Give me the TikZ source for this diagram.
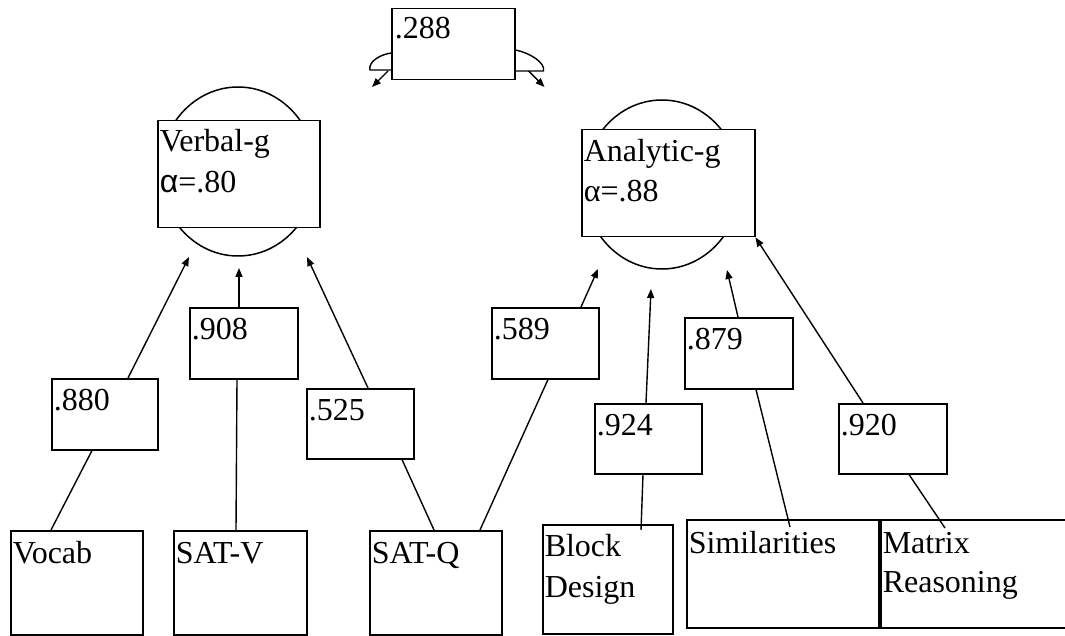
\documentclass[tikz,border=0pt]{standalone}
\usepackage{fontspec}
\setmainfont{Liberation Serif}
\newfontfamily\sansalpha{Liberation Sans}
\usetikzlibrary{arrows.meta,calc,shapes.geometric}
\begin{document}
\begin{tikzpicture}[x=1pt,y=-1pt,line width=1.5pt,
  box/.style={draw,rectangle,inner sep=0pt,anchor=north west},
  lbl/.style={anchor=base west,inner sep=0pt,font=\fontsize{32}{37}\selectfont},
  lat/.style={draw,ellipse,inner sep=0pt,minimum width=156pt,minimum height=169pt},
  conn/.style={line width=1.4pt},
  arr/.style={line width=1.4pt,-{Triangle[length=9pt,width=7pt]}}]
\useasboundingbox (0,0) rectangle (1065,636);
\clip (0,0) rectangle (1065,636);
% latent ellipses
\node[lat] (vcirc) at (238,171.5) {};
\node[lat] (acirc) at (662,184.5) {};
% latent boxes
\node[box,fill=white,minimum width=162pt,minimum height=107pt] (vbox) at (157,120) {};
\node[box,fill=white,minimum width=173pt,minimum height=107pt] (abox) at (581,129) {};
\node[lbl] (vt1) at ([shift={(2,32)}]vbox.north west) {Verbal-g};
\node[lbl] (vt2) at ([shift={(2,73)}]vbox.north west) {{\sansalpha α}=.80};
\node[lbl] (at1) at ([shift={(2,33)}]abox.north west) {Analytic-g};
\node[lbl] (at2) at ([shift={(2,73)}]abox.north west) {α=.88};
% correlation box
\node[box,minimum width=123pt,minimum height=71pt] (corr) at (391,8) {};
\node[lbl] (ct) at ([shift={(3,31)}]corr.north west) {.288};
\coordinate (cl1) at ([shift={(0,45)}]corr.north west);
\coordinate (cl2) at ([shift={(-21,62)}]corr.north west);
\coordinate (cl3) at ([shift={(0,62)}]corr.north west);
\coordinate (cr1) at ([shift={(0,42)}]corr.north east);
\coordinate (cr2) at ([shift={(28,63)}]corr.north east);
\coordinate (cr3) at ([shift={(0,63)}]corr.north east);
\draw[conn] (cl1) .. controls ($(cl1)+(-13,2)$) and ($(cl2)+(-2,-7)$) .. (cl2) -- (cl3);
\draw[conn] (cr1) .. controls ($(cr1)+(15,3)$) and ($(cr2)+(2,-8)$) .. (cr2) -- (cr3);
\draw[arr] ([shift={(-3,63)}]corr.north west) -- ([shift={(-19,79)}]corr.north west);
\draw[arr] ([shift={(13,63)}]corr.north east) -- ([shift={(29,79)}]corr.north east);
% loading boxes
\node[box,minimum width=106pt,minimum height=71pt] (l880) at (51,378) {};
\node[box,minimum width=108pt,minimum height=71pt] (l908) at (189,307) {};
\node[box,minimum width=107pt,minimum height=70pt] (l525) at (306,388) {};
\node[box,minimum width=107pt,minimum height=71pt] (l589) at (491,307) {};
\node[box,minimum width=107pt,minimum height=70pt] (l924) at (594,403) {};
\node[box,minimum width=108pt,minimum height=71pt] (l879) at (684,317) {};
\node[box,minimum width=108pt,minimum height=70pt] (l920) at (838,403) {};
\node[lbl] at ([shift={(2,32)}]l880.north west) {.880};
\node[lbl] at ([shift={(2,32)}]l908.north west) {.908};
\node[lbl] at ([shift={(2,32)}]l525.north west) {.525};
\node[lbl] at ([shift={(2,32)}]l589.north west) {.589};
\node[lbl] at ([shift={(2,32)}]l924.north west) {.924};
\node[lbl] at ([shift={(2,32)}]l879.north west) {.879};
\node[lbl] at ([shift={(2,32)}]l920.north west) {.920};
% indicator boxes
\node[box,minimum width=132pt,minimum height=104pt] (vocab) at (10,530) {};
\node[box,minimum width=133pt,minimum height=104pt] (satv) at (173,530) {};
\node[box,minimum width=132pt,minimum height=104pt] (satq) at (369,530) {};
\node[box,minimum width=130pt,minimum height=109pt] (block) at (542,524) {};
\node[box,minimum width=192pt,minimum height=108pt] (sim) at (686,519) {};
\node[box,minimum width=200pt,minimum height=108pt] (matrix) at (880,519) {};
\node[lbl] at ([shift={(2,33)}]vocab.north west) {Vocab};
\node[lbl] at ([shift={(2,33)}]satv.north west) {SAT-V};
\node[lbl] at ([shift={(2,33)}]satq.north west) {SAT-Q};
\node[lbl] at ([shift={(2,32)}]block.north west) {Block};
\node[lbl] at ([shift={(2,73)}]block.north west) {Design};
\node[lbl] at ([shift={(2,34)}]sim.north west) {Similarities};
\node[lbl] at ([shift={(2,34)}]matrix.north west) {Matrix};
\node[lbl] at ([shift={(2,73)}]matrix.north west) {Reasoning};
% connectors: indicators to loading boxes
\draw[conn] ([xshift=41pt]vocab.north west) -- ([xshift=41pt]l880.south west);
\draw[conn] ([xshift=63pt]satv.north west) -- ([xshift=48pt]l908.south west);
\draw[conn] ([xshift=65pt]satq.north west) -- ([xshift=96pt]l525.south west);
\draw[conn] ([xshift=111pt]satq.north west) -- ([xshift=57pt]l589.south west);
\draw[conn] ([shift={(99,6)}]block.north west) -- ([xshift=49pt]l924.south west);
\draw[conn] ([shift={(104,8)}]sim.north west) -- ([xshift=72pt]l879.south west);
\draw[conn] ([shift={(65,9)}]matrix.north west) -- ([xshift=71pt]l920.south west);
% arrows: loading boxes to latents
\draw[arr] ([xshift=77pt]l880.north west) -- ([shift={(-49,85.5)}]vcirc.center);
\draw[arr] ([xshift=50pt]l908.north west) -- ([shift={(1,96.5)}]vcirc.center);
\draw[arr] ([xshift=62pt]l525.north west) -- ([shift={(69,85.5)}]vcirc.center);
\draw[arr] ([xshift=90pt]l589.north west) -- ([shift={(-64,84.5)}]acirc.center);
\draw[arr] ([xshift=52pt]l924.north west) -- ([shift={(-11,104.5)}]acirc.center);
\draw[arr] ([xshift=54pt]l879.north west) -- ([shift={(65,85.5)}]acirc.center);
\draw[arr] ([xshift=25pt]l920.north west) -- (abox.south east);
\end{tikzpicture}
\end{document}
